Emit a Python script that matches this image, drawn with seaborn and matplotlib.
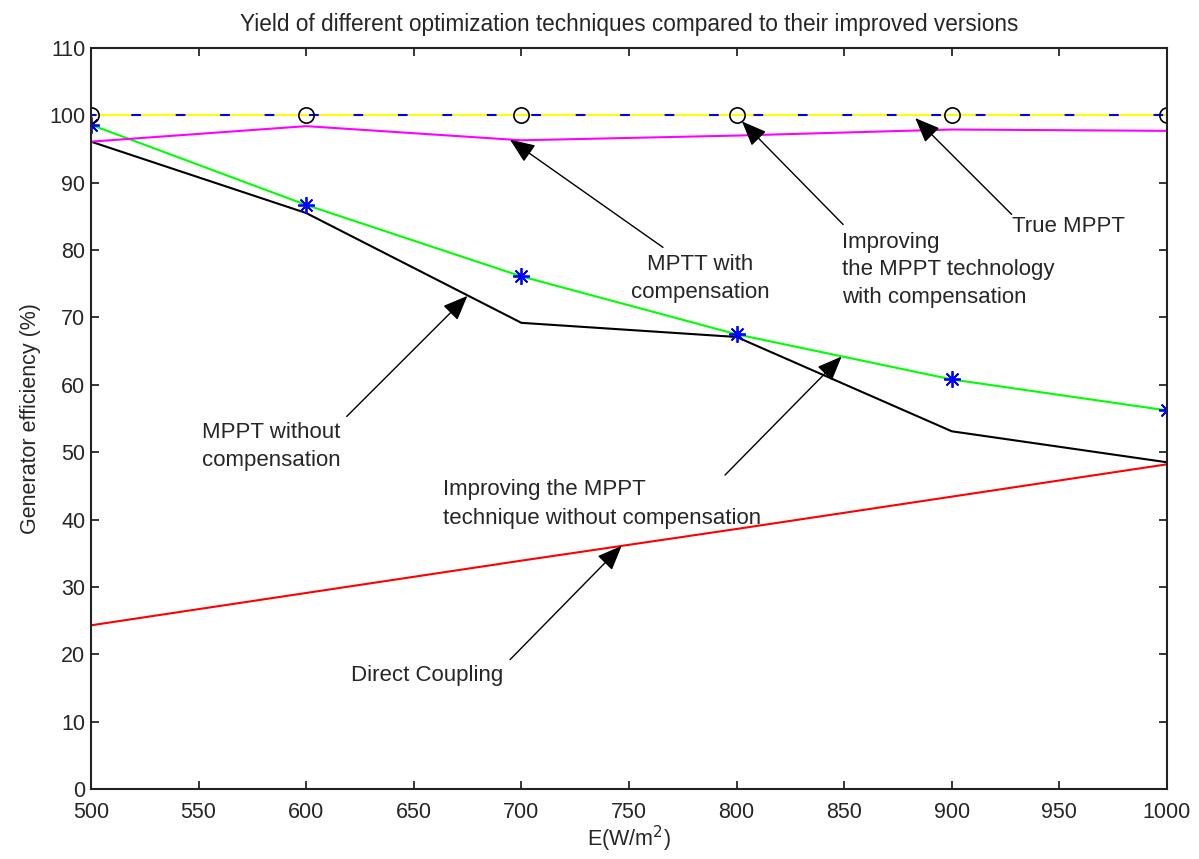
import matplotlib
matplotlib.use("Agg")
import matplotlib.pyplot as plt
import seaborn as sns
import pandas as pd

# ---- data ----
irradiance = [500, 600, 700, 800, 900, 1000]
true_mppt = [100, 100, 100, 100, 100, 100]
mppt_comp = [96.1, 98.4, 96.3, 97.0, 97.9, 97.7]
improved_comp = [98.6, 86.7, 76.1, 67.5, 60.8, 56.2]
mppt_no_comp = [96.1, 85.5, 69.2, 67.1, 53.1, 48.5]
direct_coupling = [24.3, 29.1, 33.9, 38.6, 43.4, 48.2]

title_text = "Yield of different optimization techniques compared to their improved versions"
xlabel_text = "E(W/m$^2$)"
ylabel_text = "Generator efficiency (%)"
x_ticks = [500, 550, 600, 650, 700, 750, 800, 850, 900, 950, 1000]
y_ticks = list(range(0, 111, 10))

df = pd.DataFrame({
    "E": irradiance,
    "true": true_mppt,
    "comp": mppt_comp,
    "imp": improved_comp,
    "nocomp": mppt_no_comp,
    "direct": direct_coupling,
})

sns.set_style("ticks")
plt.rcParams["font.family"] = ["Liberation Sans", "DejaVu Sans"]
plt.rcParams["lines.scale_dashes"] = False

fig = plt.figure(figsize=(11.99, 8.59), dpi=100)
ax = fig.add_axes([91 / 1199, 1 - 789 / 859, (1167 - 91) / 1199, (789 - 48) / 859])

lw = 1.5
sns.lineplot(data=df, x="E", y="direct", color="#ff0000", lw=lw, ax=ax)
sns.lineplot(data=df, x="E", y="nocomp", color="black", lw=lw, ax=ax)
sns.lineplot(data=df, x="E", y="imp", color="#00ff00", lw=lw, ax=ax,
             marker=(8, 2, 0), markersize=12, markeredgecolor="#0000ff",
             markerfacecolor="#0000ff", markeredgewidth=1.3)
sns.lineplot(data=df, x="E", y="comp", color="#ff00ff", lw=lw, ax=ax)
sns.lineplot(data=df, x="E", y="true", color="#ffff00", lw=lw, ax=ax)
sns.lineplot(data=df, x="E", y="true", color="#0000ff", lw=lw, ax=ax,
             dashes=False, linestyle=(3, (7, 25)))
sns.lineplot(data=df, x="E", y="true", color="black", ax=ax,
             linestyle="none", marker="o", markersize=11,
             markerfacecolor="none", markeredgecolor="black", markeredgewidth=1.2)

ax.set_xlim(500, 1000)
ax.set_ylim(0, 110)
ax.set_xticks(x_ticks)
ax.set_yticks(y_ticks)
ax.tick_params(direction="in", length=6, width=1.3, labelsize=15.5,
               top=True, right=True)
ax.tick_params(axis="x", pad=9)
ax.tick_params(axis="y", pad=4)
for s in ax.spines.values():
    s.set_visible(True)
    s.set_linewidth(1.5)
    s.set_color("#222222")

ax.set_title(title_text, fontsize=16.3, pad=12)
ax.set_xlabel(xlabel_text, fontsize=15.5, labelpad=1)
ax.set_ylabel(ylabel_text, fontsize=15.5, labelpad=6)

fs = 16
ls = 1.45
ax.text(783.0, 75.8, "MPTT with\ncompensation", ha="center", va="center", fontsize=fs, linespacing=ls)
ax.text(849.0, 81.2, "Improving", ha="left", va="center", fontsize=fs)
ax.text(849.0, 77.1, "the MPPT technology", ha="left", va="center", fontsize=fs)
ax.text(849.0, 72.9, "with compensation", ha="left", va="center", fontsize=fs)
ax.text(954.0, 83.5, "True MPPT", ha="center", va="center", fontsize=fs)
ax.text(583.6, 50.9, "MPPT without\ncompensation", ha="center", va="center", fontsize=fs, linespacing=ls)
ax.text(663.6, 42.3, "Improving the MPPT\ntechnique without compensation", ha="left", va="center",
        fontsize=fs, linespacing=ls)
ax.text(656.1, 16.8, "Direct Coupling", ha="center", va="center", fontsize=fs)

arrows = [
    ((694.7, 96.4), (765.8, 80.4)),
    ((802.5, 99.1), (849.5, 83.8)),
    ((883.0, 99.6), (927.8, 85.3)),
    ((674.9, 73.2), (618.8, 55.3)),
    ((848.8, 64.2), (794.6, 46.6)),
    ((746.6, 36.1), (694.7, 19.2)),
]
for tip, start in arrows:
    ax.annotate("", xy=tip, xytext=start,
                arrowprops=dict(arrowstyle="-|>,head_length=1.1,head_width=0.45",
                                color="black", lw=1.0, mutation_scale=14,
                                shrinkA=0, shrinkB=0))

fig.savefig("out.png", dpi=100)
